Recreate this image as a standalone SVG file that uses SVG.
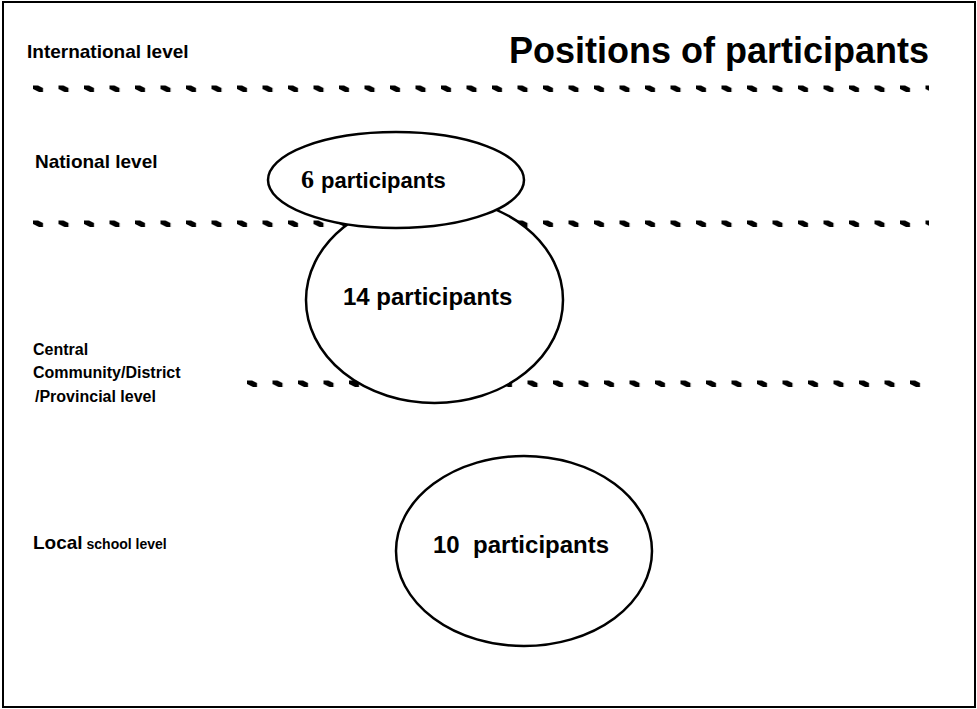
<svg xmlns="http://www.w3.org/2000/svg" width="977" height="709" viewBox="0 0 977 709">
<style>
.lbl{font-family:"Liberation Sans",Arial,sans-serif;font-weight:bold;fill:#000}
.num{font-family:"Liberation Sans",Arial,sans-serif;font-weight:bold;fill:#000}
.node{fill:#fff;stroke:#000;stroke-width:2.5}
</style>
<defs>
<pattern id="dash" width="25.5" height="8" patternUnits="userSpaceOnUse">
<polygon points="0,0.5 5,0.5 10,3 10,7 6,7 0,4" fill="#000"/>
</pattern>
</defs>
<rect x="0" y="0" width="977" height="709" fill="#fff"/>
<rect x="3" y="2" width="972" height="705" fill="none" stroke="#000" stroke-width="2"/>
<g id="texts">
<text class="lbl" x="27" y="58" font-size="19">International level</text>
<text class="lbl" x="509" y="63" font-size="36">Positions of participants</text>
<text class="lbl" x="35" y="168" font-size="19">National level</text>
<text class="lbl" x="33" y="355" font-size="16">Central</text>
<text class="lbl" x="33" y="378" font-size="16">Community/District</text>
<text class="lbl" x="35" y="402" font-size="16">/Provincial level</text>
<text class="lbl" x="33" y="549"><tspan font-size="19">Local</tspan><tspan font-size="14"> school level</tspan></text>
</g>
<g id="connectors">
<g transform="translate(33,85)"><rect width="896" height="8" fill="url(#dash)"/></g>
<g transform="translate(33,220)"><rect width="896" height="8" fill="url(#dash)"/></g>
<g transform="translate(247,380)"><rect width="674" height="8" fill="url(#dash)"/></g>
</g>
<g id="node14">
<ellipse class="node" cx="434.5" cy="300" rx="128.5" ry="103"/>
<text class="num" x="343" y="305" font-size="24">14 participants</text>
</g>
<g id="node6">
<ellipse class="node" cx="396" cy="180" rx="128" ry="48"/>
<text x="301" y="188"><tspan font-family="'Liberation Serif','Times New Roman',serif" font-weight="bold" font-size="26">6</tspan><tspan class="num" font-size="22" dx="7">participants</tspan></text>
</g>
<g id="node10">
<ellipse class="node" cx="524" cy="551" rx="128" ry="95"/>
<text class="num" x="433" y="553" font-size="24" xml:space="preserve">10  participants</text>
</g>
</svg>
